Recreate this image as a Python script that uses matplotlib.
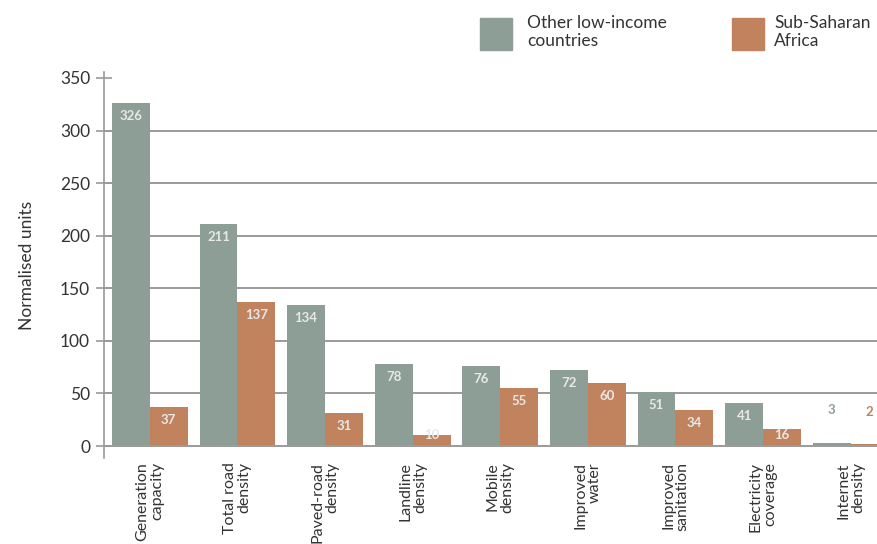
import matplotlib
matplotlib.use("Agg")
import matplotlib.pyplot as plt
import numpy as np

categories = [
    "Generation\ncapacity", "Total road\ndensity", "Paved-road\ndensity",
    "Landline\ndensity", "Mobile\ndensity", "Improved\nwater",
    "Improved\nsanitation", "Electricity\ncoverage", "Internet\ndensity",
]
other_low_income = [326, 211, 134, 78, 76, 72, 51, 41, 3]
sub_saharan = [37, 137, 31, 10, 55, 60, 34, 16, 2]
series_names = ["Other low-income\ncountries", "Sub-Saharan\nAfrica"]
y_ticks = [0, 50, 100, 150, 200, 250, 300, 350]
grid_levels = [0, 50, 100, 150, 200, 250, 300]

GREEN = "#8C9E96"
ORANGE = "#C0835E"
LINE = "#9A9A9A"
TEXT = "#333333"

plt.rcParams["font.family"] = ["Lato", "DejaVu Sans"]

fig = plt.figure(figsize=(8.77, 5.44), dpi=100)
ax = fig.add_axes([104 / 877, 1 - 458 / 544, 1 - 104 / 877, (458 - 72) / 544])

x = np.arange(len(categories))
w = 0.432
bars_g = ax.bar(x - w / 2, other_low_income, w, color=GREEN, zorder=3)
bars_o = ax.bar(x + w / 2, sub_saharan, w, color=ORANGE, zorder=3)

for level in grid_levels:
    ax.axhline(level, color=LINE, lw=1.4, zorder=2 if level else 4)

def label_bars(bars, values, color):
    for b, v in zip(bars, values):
        cx = b.get_x() + b.get_width() / 2
        style = dict(ha="center", fontsize=9.5, fontweight="bold", zorder=5)
        if v >= 20:
            ax.annotate(str(v), (cx, v), xytext=(0, -5), textcoords="offset points",
                        va="top", color="#E8E8E8", **style)
        elif v >= 8:
            ax.annotate(str(v), (cx, 0), xytext=(0, 3.5), textcoords="offset points",
                        va="bottom", color="#E8E8E8", **style)
        else:
            ax.annotate(str(v), (cx, v), xytext=(0, 19), textcoords="offset points",
                        va="bottom", color=color, **style)

label_bars(bars_g, other_low_income, GREEN)
label_bars(bars_o, sub_saharan, ORANGE)

ax.set_xlim(-0.523, 8.30)
ax.set_ylim(-11.4, 355.7)

for s in ["top", "right", "bottom"]:
    ax.spines[s].set_visible(False)
ax.spines["left"].set_color(LINE)
ax.spines["left"].set_linewidth(1.2)

ax.set_yticks(y_ticks)
ax.set_yticklabels([str(t) for t in y_ticks])
ax.tick_params(axis="y", direction="inout", length=12, width=1.2, color=LINE,
               labelsize=12.5, labelcolor=TEXT, pad=4)
ax.set_xticks(x)
ax.set_xticklabels(categories, rotation=90, ha="center", va="top",
                   multialignment="right", fontsize=11.5, color=TEXT,
                   linespacing=1.05)
ax.tick_params(axis="x", length=0, pad=3)
ax.set_ylabel("Normalised units", fontsize=12.5, color=TEXT, labelpad=18)

# legend drawn as patches and text above the plot
for i, (name, col) in enumerate(zip(series_names, [GREEN, ORANGE])):
    x0 = [480, 732][i]
    fig.patches.append(plt.Rectangle((x0 / 877, 1 - 50 / 544), 32 / 877, 32 / 544,
                                     transform=fig.transFigure, color=col))
    fig.text((x0 + 47) / 877 if i == 0 else (x0 + 42) / 877, 1 - 15 / 544, name,
             ha="left", va="top", fontsize=12.5, color=TEXT, linespacing=1.15)

fig.savefig("out.png", dpi=100)
